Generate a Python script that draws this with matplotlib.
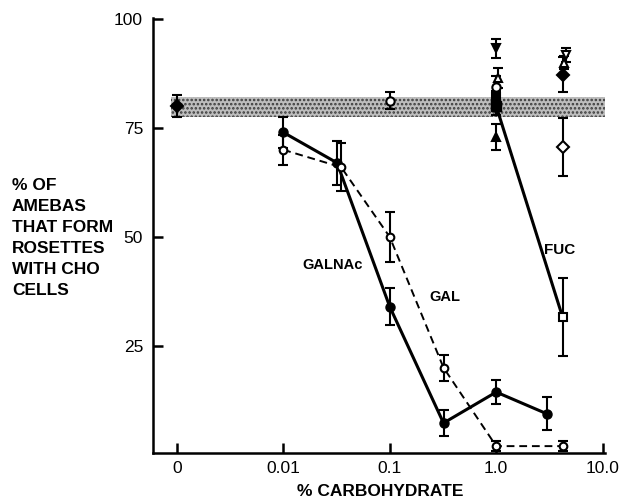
"""
Rosette formation of amebas with CHO cells vs. carbohydrate concentration
"""
import numpy as np
import matplotlib
matplotlib.use("Agg")
import matplotlib.pyplot as plt

# concentrations (%); 0 is drawn one decade below 0.01
galnac_conc = [0.01, 0.032, 0.1, 0.32, 1.0, 3.0]
galnac_pct = [74, 67, 34, 7.3, 14.4, 9.4]
galnac_err = [3.5, 5, 4.3, 3, 2.8, 3.8]

gal_conc = [0.01, 0.035, 0.1, 0.32, 1.0, 4.2]
gal_pct = [70, 66, 50, 20, 2, 2]
gal_err = [3.5, 5.5, 5.8, 3, 1.2, 1.2]

fuc_conc = [1.0, 4.2]
fuc_pct = [80, 31.6]
fuc_err = [2, 9]

control_band = (77.5, 82)

# isolated control points: (conc, value, error, marker, filled)
extra_conc = [0, 0.1, 1.0, 1.04, 0.99, 1.0, 0.99, 4.5, 4.35, 4.2, 4.2]
extra_pct = [80, 81.3, 93.3, 86.5, 84.4, 82, 73, 91.7, 90, 87.2, 70.6]
extra_err = [2.5, 2, 2.2, 2.3, 2.6, 1.5, 3, 1.6, 1.5, 4, 6.7]
extra_marker = ["D", "o", "v", "^", "o", "s", "^", "v", "^", "D", "D"]
extra_filled = [True, False, True, False, False, True, True, False, False, True, False]

xticks = [0, 0.01, 0.1, 1.0, 10.0]
xtick_labels = ["0", "0.01", "0.1", "1.0", "10.0"]
yticks = [25, 50, 75, 100]


def xpos(c):
    # log scale, with zero placed at the 0.001 position
    c = np.asarray(c, dtype=float)
    return np.where(c > 0, np.log10(np.where(c > 0, c, 1)), -3)


plt.rcParams["font.family"] = ["Liberation Sans", "DejaVu Sans"]
plt.rcParams["hatch.linewidth"] = 1.2
fig = plt.figure(figsize=(6.21, 5.04), dpi=100)
ax = fig.add_axes([0.246, 0.101, 0.728, 0.863])

# stippled control band
ax.fill_between([-3.05, 1.02], control_band[0], control_band[1],
                facecolor="#bdbdbd", edgecolor="#3a3a3a", hatch="....",
                linewidth=0, zorder=1)

ax.errorbar(xpos(galnac_conc), galnac_pct, yerr=galnac_err, color="black",
            lw=2.2, marker="o", ms=6.5, mfc="black", capsize=3.5,
            elinewidth=1.5, capthick=1.5, zorder=3)
ax.errorbar(xpos(gal_conc), gal_pct, yerr=gal_err, color="black",
            lw=1.4, ls="--", dashes=(4, 2.5), marker="o", ms=5.5, mfc="white",
            mew=1.5, capsize=3.5, elinewidth=1.5, capthick=1.5, zorder=3)
ax.errorbar(xpos(fuc_conc), fuc_pct, yerr=fuc_err, color="black",
            lw=2.2, marker="s", ms=5.5, mfc="white", mew=1.5, capsize=3.5,
            elinewidth=1.5, capthick=1.5, zorder=3)
# FUC start point is filled
ax.plot(xpos(fuc_conc[:1]), fuc_pct[:1], "s", color="black", ms=6.5, zorder=4)

for c, v, e, m, f in zip(extra_conc, extra_pct, extra_err, extra_marker, extra_filled):
    ax.errorbar(xpos([c]), [v], yerr=[e], color="black", marker=m, ms=6,
                mfc="black" if f else "white", mew=1.5, capsize=3.5,
                elinewidth=1.5, capthick=1.5, ls="none", zorder=4)

ax.text(-1.535, 43.6, "GALNAc", ha="center", va="center",
        fontsize=10.5, fontweight="bold")
ax.text(-0.48, 36.2, "GAL", ha="center", va="center",
        fontsize=10.5, fontweight="bold")
ax.text(0.6, 47, "FUC", ha="center", va="center",
        fontsize=11, fontweight="bold")

ax.set_xlim(-3.225, 1.02)
ax.set_ylim(0.4, 100.2)
ax.set_xticks(xpos(xticks))
ax.set_xticklabels(xtick_labels)
ax.set_yticks(yticks)
ax.tick_params(direction="in", length=7, width=1.8, labelsize=12.5)
ax.tick_params(axis="x", pad=6)
ax.tick_params(axis="y", pad=7)
for side in ["top", "right"]:
    ax.spines[side].set_visible(False)
for side in ["left", "bottom"]:
    ax.spines[side].set_linewidth(1.8)

fig.text(12 / 621, 1 - 238 / 504,
         "% OF\nAMEBAS\nTHAT FORM\nROSETTES\nWITH CHO\nCELLS",
         ha="left", va="center", fontsize=12.5, fontweight="bold",
         linespacing=1.5)
fig.text(380 / 621, 1 - 492 / 504, "% CARBOHYDRATE", ha="center",
         va="center", fontsize=12.5, fontweight="bold")

fig.savefig("out.png", dpi=100)
